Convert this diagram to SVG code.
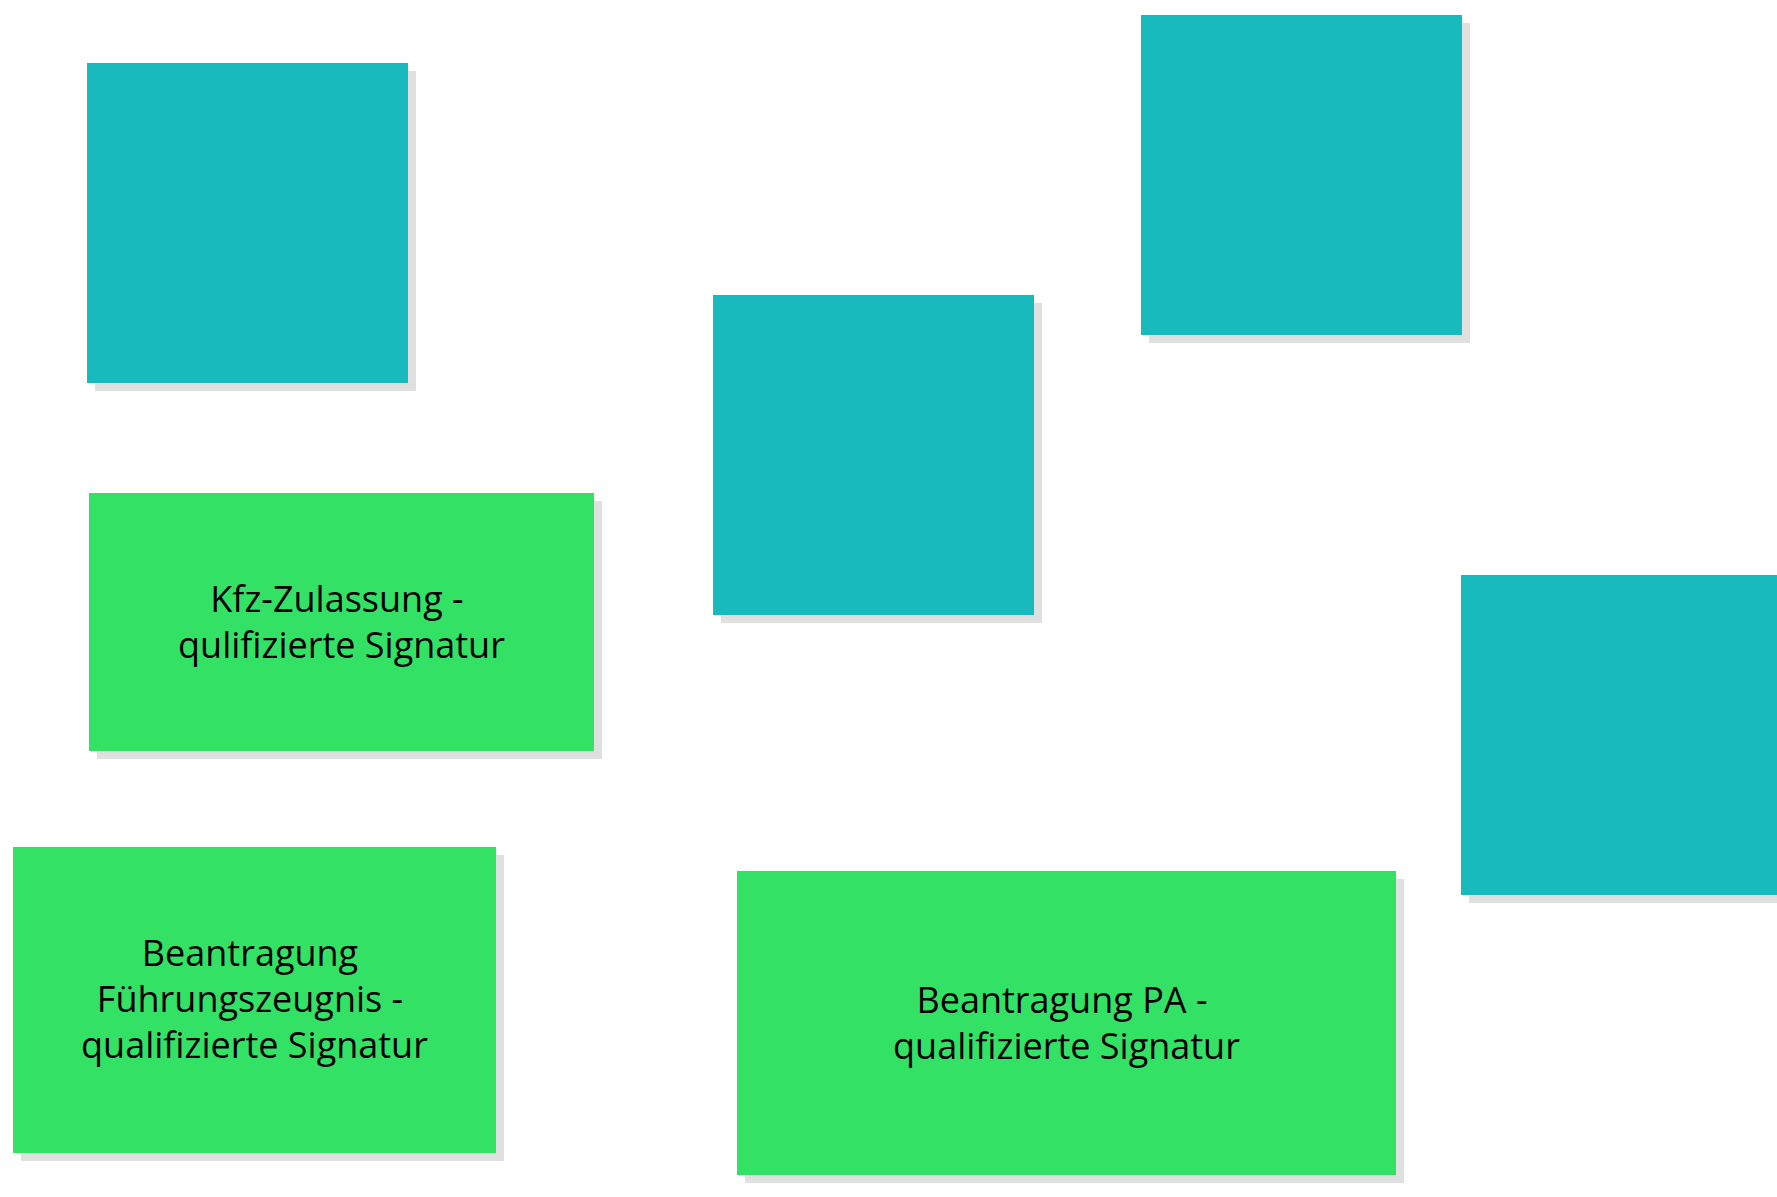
<svg xmlns="http://www.w3.org/2000/svg" width="1777" height="1197" viewBox="0 0 1777 1197">
<style>
.shadow{fill:#e0e0e0}
.teal{fill:#19babe}
.green{fill:#33e164}
.lbl{font-family:"Open Sans","Liberation Sans",sans-serif;font-size:36px;fill:#000;text-anchor:middle}
</style>
<rect width="1777" height="1197" fill="#fff"/>
<g id="connectors"></g>
<g id="node-teal-1">
<rect class="shadow" x="95" y="71" width="321" height="320"/>
<rect class="teal" x="87" y="63" width="321" height="320"/>
</g>
<g id="node-teal-2">
<rect class="shadow" x="721" y="303" width="321" height="320"/>
<rect class="teal" x="713" y="295" width="321" height="320"/>
</g>
<g id="node-teal-3">
<rect class="shadow" x="1149" y="23" width="321" height="320"/>
<rect class="teal" x="1141" y="15" width="321" height="320"/>
</g>
<g id="node-teal-4">
<rect class="shadow" x="1469" y="583" width="321" height="320"/>
<rect class="teal" x="1461" y="575" width="321" height="320"/>
</g>
<g id="node-kfz">
<rect class="shadow" x="97" y="501" width="505" height="258"/>
<rect class="green" x="89" y="493" width="505" height="258"/>
<text class="lbl"><tspan x="337" y="612">Kfz-Zulassung -</tspan><tspan x="341.5" y="658">qulifizierte Signatur</tspan></text>
</g>
<g id="node-fuehrungszeugnis">
<rect class="shadow" x="21" y="855" width="483" height="306"/>
<rect class="green" x="13" y="847" width="483" height="306"/>
<text class="lbl"><tspan x="250" y="966">Beantragung</tspan><tspan x="250" y="1012">Führungszeugnis -</tspan><tspan x="254.5" y="1058">qualifizierte Signatur</tspan></text>
</g>
<g id="node-pa">
<rect class="shadow" x="745" y="879" width="659" height="304"/>
<rect class="green" x="737" y="871" width="659" height="304"/>
<text class="lbl"><tspan x="1062" y="1013">Beantragung PA -</tspan><tspan x="1066.5" y="1059">qualifizierte Signatur</tspan></text>
</g>
</svg>
